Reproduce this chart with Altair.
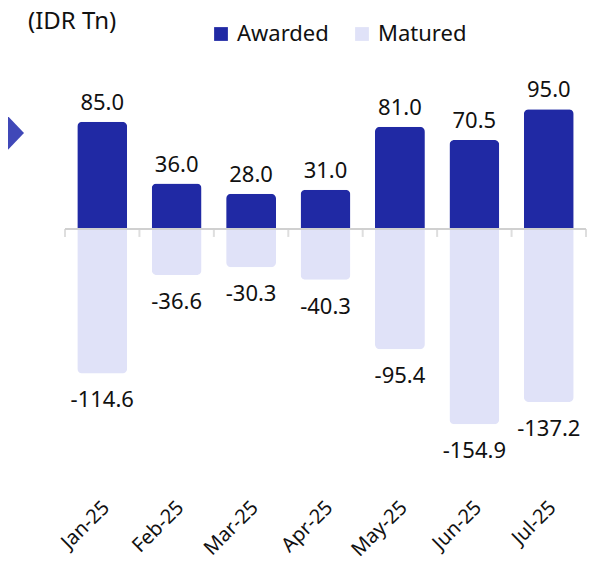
import altair as alt
import pandas as pd

months = ["Jan-25", "Feb-25", "Mar-25", "Apr-25", "May-25", "Jun-25", "Jul-25"]
awarded = [85.0, 36.0, 28.0, 31.0, 81.0, 70.5, 95.0]
matured = [-114.6, -36.6, -30.3, -40.3, -95.4, -154.9, -137.2]
series = ["Awarded", "Matured"]
unit_label = "(IDR Tn)"

df = pd.DataFrame({"month": months, "awarded": awarded, "matured": matured})

DARK = "#2029a4"
LIGHT = "#e0e2f8"
FONT = "Noto Sans"

xenc = alt.X("month:N", sort=months, title=None,
             scale=alt.Scale(paddingInner=0, paddingOuter=0),
             axis=alt.Axis(labelAngle=-45, labelFontSize=20, labelColor="#111111",
                           domain=False, ticks=False, labelPadding=2, labelOffset=-3,
                           labelFont=FONT))
yscale = alt.Scale(domain=[-211, 134], nice=False, zero=False)
color_scale = alt.Scale(domain=series, range=[DARK, LIGHT])
legend = alt.Legend(title=None, orient="none", direction="horizontal",
                    legendX=145, legendY=-37, labelFontSize=22,
                    labelFont=FONT, labelColor="#111111",
                    symbolType="square", symbolSize=190,
                    symbolStrokeWidth=0, labelOffset=5, columnPadding=22)

base = alt.Chart(df)

mat_bar = base.transform_calculate(series="'Matured'").mark_bar(
    width=alt.RelativeBandSize(0.67),
    cornerRadiusBottomLeft=5, cornerRadiusBottomRight=5).encode(
    x=xenc,
    y=alt.Y("matured:Q", scale=yscale, axis=None),
    color=alt.Color("series:N", scale=color_scale, legend=legend),
)
awd_bar = base.transform_calculate(series="'Awarded'").mark_bar(
    width=alt.RelativeBandSize(0.67),
    cornerRadiusTopLeft=5, cornerRadiusTopRight=5).encode(
    x=xenc,
    y=alt.Y("awarded:Q", scale=yscale, axis=None),
    color=alt.Color("series:N", scale=color_scale, legend=legend),
)

zero = base.mark_rule(color="#d0d0d0", strokeWidth=2).encode(y=alt.datum(0))

ticks_left = base.mark_tick(orient="vertical", size=8, thickness=2, yOffset=4,
                            color="#d0d0d0").encode(
    x=alt.X("month:N", sort=months, bandPosition=0),
    y=alt.datum(0),
)
ticks_right = base.transform_filter(alt.datum.month == months[-1]).mark_tick(
    orient="vertical", size=8, thickness=2, yOffset=4, color="#d0d0d0").encode(
    x=alt.X("month:N", sort=months, bandPosition=1),
    y=alt.datum(0),
)

awd_lab = base.transform_calculate(lab="format(datum.awarded, '.1f')").mark_text(
    baseline="alphabetic", dy=-12, fontSize=22, font=FONT, color="#111111").encode(
    x=alt.X("month:N", sort=months),
    y=alt.Y("awarded:Q", scale=yscale),
    text="lab:N",
)
mat_lab = base.transform_calculate(lab="'-' + format(-datum.matured, '.1f')").mark_text(
    baseline="alphabetic", dy=34, fontSize=22, font=FONT, color="#111111").encode(
    x=alt.X("month:N", sort=months),
    y=alt.Y("matured:Q", scale=yscale),
    text="lab:N",
)

unit = alt.Chart(df.head(1)).mark_text(
    align="left", baseline="alphabetic", fontSize=24, font=FONT, color="#111111").encode(
    x=alt.value(-37), y=alt.value(-31), text=alt.value(unit_label))

deco = alt.Chart(df.head(1)).mark_point(
    shape="M-0.48,-1L0.48,0L-0.48,1Z", size=2500, filled=True, opacity=1,
    color="#4048b8", strokeWidth=0).encode(x=alt.value(-53), y=alt.value(73))

chart = alt.layer(mat_bar, awd_bar, zero, ticks_left, ticks_right, awd_lab, mat_lab,
                  unit, deco).properties(
    width=521, height=435,
    autosize=alt.AutoSizeParams(type="none"),
    padding={"left": 57, "top": 52, "right": 9, "bottom": 61},
).configure(font=FONT).configure_view(strokeWidth=0, stroke="transparent")

chart.save("out.html", embed_options={"renderer": "svg", "actions": False})
